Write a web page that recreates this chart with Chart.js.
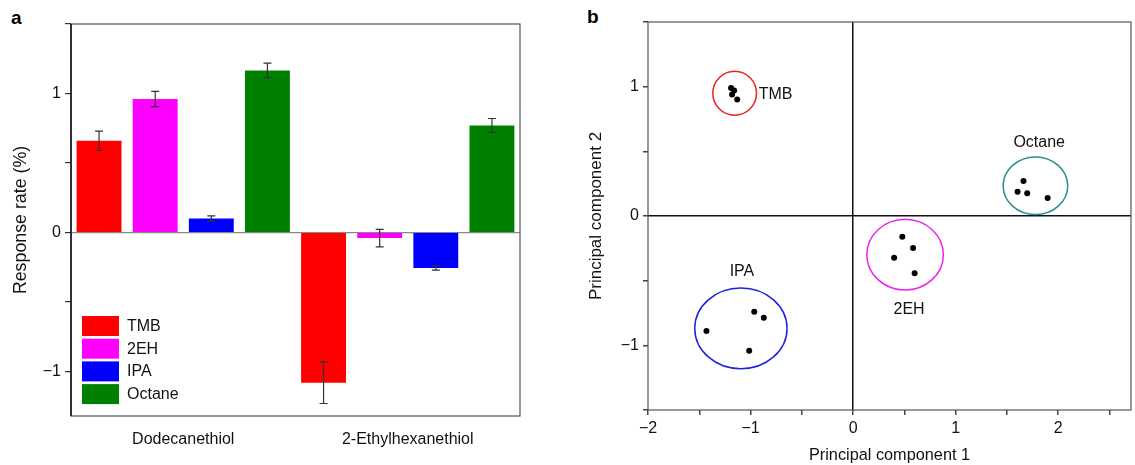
<!DOCTYPE html>
<html>
<head>
<meta charset="utf-8">
<script src="https://cdn.jsdelivr.net/npm/chart.js@4.4.0/dist/chart.umd.min.js"></script>
<style>
body { margin: 0; background: #fff; width: 1135px; height: 465px; overflow: hidden; position: relative; font-family: "Liberation Sans", Arial, sans-serif; }
.panel { position: absolute; top: 0; height: 465px; }
#barWrap { left: 0; width: 530px; }
#pcaWrap { left: 580px; width: 555px; }
.tag { position: absolute; font-weight: bold; font-size: 19px; color: #000; }
</style>
</head>
<body>
<div class="tag" style="left:11px;top:7px">a</div>
<div class="tag" style="left:587px;top:6px">b</div>
<div class="panel" id="barWrap"><canvas id="barChart"></canvas></div>
<div class="panel" id="pcaWrap"><canvas id="pcaChart"></canvas></div>
<script>
// panel a: response rates
const thiols = ['Dodecanethiol', '2-Ethylhexanethiol'];
const analytes = ['TMB', '2EH', 'IPA', 'Octane'];
const colors = ['#ff0000', '#ff00ff', '#0000ff', '#008000'];
const tmbRate = [0.66, -1.08];
const ehRate = [0.96, -0.04];
const ipaRate = [0.10, -0.255];
const octaneRate = [1.165, 0.77];
const tmbErr = [0.07, 0.15];
const ehErr = [0.055, 0.063];
const ipaErr = [0.02, 0.015];
const octaneErr = [0.053, 0.05];
const rateTicks = [-1, 0, 1];

// panel b: PCA scores
const tmbPC1 = [-1.19, -1.16, -1.18, -1.13];
const tmbPC2 = [0.99, 0.97, 0.94, 0.90];
const ehPC1 = [0.48, 0.585, 0.40, 0.60];
const ehPC2 = [-0.16, -0.247, -0.322, -0.443];
const ipaPC1 = [-1.43, -0.964, -0.871, -1.013];
const ipaPC2 = [-0.889, -0.74, -0.787, -1.042];
const octanePC1 = [1.662, 1.604, 1.698, 1.897];
const octanePC2 = [0.271, 0.188, 0.176, 0.139];
// cluster rings (data units)
const ringX = [-1.155, 0.507, -1.094, 1.778];
const ringY = [0.949, -0.299, -0.869, 0.234];
const ringRx = [0.213, 0.373, 0.45, 0.315];
const ringRy = [0.17, 0.273, 0.312, 0.223];
const ringColors = ['#ee2222', '#ee22ee', '#2222dd', '#2a8f8f'];
const labelX = [-0.92, 0.546, -1.084, 1.815];
const labelY = [0.936, -0.722, -0.433, 0.567];
const labelAlign = ['left', 'center', 'center', 'center'];
const pcTicks = [-2, -1, 0, 1, 2];

const FONT = '"Liberation Sans", Arial, sans-serif';
Chart.defaults.font.family = FONT;
Chart.defaults.font.size = 16;
Chart.defaults.color = '#111';

const frame = {
  id: 'frame',
  afterDraw(chart, args, opts) {
    const {ctx, chartArea: a} = chart;
    ctx.save();
    ctx.strokeStyle = '#555';
    ctx.lineWidth = 1.2;
    ctx.strokeRect(a.left, a.top, a.right - a.left, a.bottom - a.top);
    if (opts.leftColor) {
      ctx.strokeStyle = opts.leftColor;
      ctx.lineWidth = 1.5;
      ctx.beginPath();
      ctx.moveTo(a.left, a.top);
      ctx.lineTo(a.left, a.bottom);
      ctx.stroke();
    }
    ctx.restore();
  }
};

const errorBars = {
  id: 'errorBars',
  afterDatasetsDraw(chart) {
    const {ctx} = chart;
    const y = chart.scales.y;
    ctx.save();
    ctx.strokeStyle = '#333';
    ctx.lineWidth = 1.2;
    chart.data.datasets.forEach((ds, i) => {
      chart.getDatasetMeta(i).data.forEach((bar, j) => {
        const top = y.getPixelForValue(ds.data[j] + ds.errors[j]);
        const bot = y.getPixelForValue(ds.data[j] - ds.errors[j]);
        ctx.beginPath();
        ctx.moveTo(bar.x, top); ctx.lineTo(bar.x, bot);
        ctx.moveTo(bar.x - 4, top); ctx.lineTo(bar.x + 4, top);
        ctx.moveTo(bar.x - 4, bot); ctx.lineTo(bar.x + 4, bot);
        ctx.stroke();
      });
    });
    ctx.restore();
  }
};

const boxLegend = {
  id: 'boxLegend',
  afterDraw(chart) {
    const {ctx, chartArea: a} = chart;
    ctx.save();
    ctx.font = '16px ' + FONT;
    ctx.textBaseline = 'middle';
    chart.data.datasets.forEach((ds, i) => {
      const top = a.bottom - 100 + i * 22.7;
      ctx.fillStyle = ds.backgroundColor;
      ctx.fillRect(a.left + 11, top, 37, 20);
      ctx.fillStyle = '#111';
      ctx.fillText(ds.label, a.left + 56, top + 10.5);
    });
    ctx.restore();
  }
};

const rates = [tmbRate, ehRate, ipaRate, octaneRate];
const errs = [tmbErr, ehErr, ipaErr, octaneErr];

new Chart(document.getElementById('barChart'), {
  type: 'bar',
  data: {
    labels: thiols,
    datasets: analytes.map((name, i) => ({
      label: name,
      data: rates[i],
      errors: errs[i],
      backgroundColor: colors[i],
      borderWidth: 0,
      categoryPercentage: 1.0,
      barPercentage: 0.8
    }))
  },
  options: {
    responsive: true,
    maintainAspectRatio: false,
    animation: false,
    layout: { padding: { top: 24, right: 10 } },
    plugins: { legend: { display: false }, tooltip: { enabled: false }, frame: { leftColor: '#111' } },
    scales: {
      x: {
        grid: { display: false },
        border: { display: false },
        ticks: { padding: 6, color: '#111' },
        afterFit(s) { s.height = 49; }
      },
      y: {
        min: -1.32,
        max: 1.5,
        border: { display: false },
        grid: {
          color: c => (c.tick && c.tick.value === 0 ? '#888' : 'rgba(0,0,0,0)'),
          tickColor: '#333',
          tickLength: 6,
          lineWidth: 1.2
        },
        ticks: {
          stepSize: 0.5,
          includeBounds: false,
          padding: 4,
          color: '#111',
          callback: v => (rateTicks.includes(v) ? (v < 0 ? '\u2212' + Math.abs(v) : String(v)) : '')
        },
        title: { display: true, text: 'Response rate (%)', color: '#111', font: { size: 17.8 }, padding: { top: 10 } },
        afterFit(s) { s.width = 71; }
      }
    }
  },
  plugins: [errorBars, frame, boxLegend]
});

const rings = {
  id: 'rings',
  afterDatasetsDraw(chart) {
    const {ctx} = chart;
    const x = chart.scales.x, y = chart.scales.y;
    ctx.save();
    ringX.forEach((cx, i) => {
      const px = x.getPixelForValue(cx), py = y.getPixelForValue(ringY[i]);
      const rx = x.getPixelForValue(cx + ringRx[i]) - px;
      const ry = py - y.getPixelForValue(ringY[i] + ringRy[i]);
      ctx.strokeStyle = ringColors[i];
      ctx.lineWidth = 1.5;
      ctx.beginPath();
      ctx.ellipse(px, py, rx, ry, 0, 0, Math.PI * 2);
      ctx.stroke();
    });
    ctx.font = '16px ' + FONT;
    ctx.fillStyle = '#111';
    ctx.textBaseline = 'middle';
    analytes.forEach((name, i) => {
      ctx.textAlign = labelAlign[i];
      ctx.fillText(name, x.getPixelForValue(labelX[i]), y.getPixelForValue(labelY[i]));
    });
    ctx.restore();
  }
};

const pc1 = [tmbPC1, ehPC1, ipaPC1, octanePC1];
const pc2 = [tmbPC2, ehPC2, ipaPC2, octanePC2];
const pcLabel = v => (pcTicks.includes(v) ? (v < 0 ? '\u2212' + Math.abs(v) : String(v)) : '');

new Chart(document.getElementById('pcaChart'), {
  type: 'scatter',
  data: {
    datasets: analytes.map((name, i) => ({
      label: name,
      data: pc1[i].map((v, j) => ({ x: v, y: pc2[i][j] })),
      backgroundColor: '#000',
      borderWidth: 0,
      pointRadius: 3
    }))
  },
  options: {
    responsive: true,
    maintainAspectRatio: false,
    animation: false,
    layout: { padding: { top: 22, right: 0 } },
    plugins: { legend: { display: false }, tooltip: { enabled: false }, frame: {} },
    scales: {
      x: {
        min: -2,
        max: 2.71,
        border: { display: false },
        grid: {
          color: c => (c.tick && c.tick.value === 0 ? '#111' : 'rgba(0,0,0,0)'),
          tickColor: '#444',
          tickLength: 5,
          lineWidth: 1.5
        },
        ticks: { stepSize: 0.5, includeBounds: false, autoSkip: false, maxRotation: 0, padding: 4, color: '#111', callback: pcLabel },
        title: { display: true, text: 'Principal component 1', color: '#111', font: { size: 16.3 }, padding: { top: 0, bottom: 0 } },
        afterFit(s) { s.height = 55; }
      },
      y: {
        min: -1.5,
        max: 1.5,
        border: { display: false },
        grid: {
          color: c => (c.tick && c.tick.value === 0 ? '#111' : 'rgba(0,0,0,0)'),
          tickColor: '#444',
          tickLength: 5,
          lineWidth: 1.5
        },
        ticks: { stepSize: 0.5, includeBounds: false, autoSkip: false, padding: 4, color: '#111', callback: pcLabel },
        title: { display: true, text: 'Principal component 2', color: '#111', font: { size: 17 }, padding: { top: 6 } },
        afterFit(s) { s.width = 68; }
      }
    }
  },
  plugins: [frame, rings]
});
</script>
</body>
</html>
